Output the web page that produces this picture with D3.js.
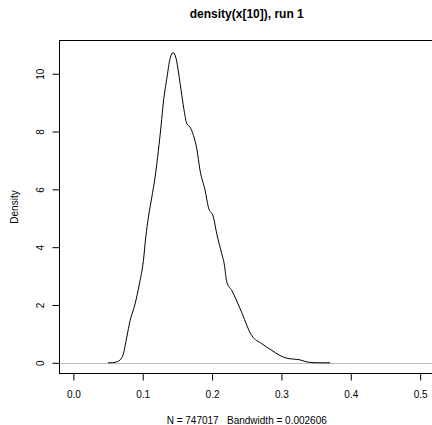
<!DOCTYPE html>
<html>
<head>
<meta charset="utf-8">
<script src="https://cdn.jsdelivr.net/npm/d3@7"></script>
<style>
  html, body { margin: 0; padding: 0; background: #fff; }
  svg { display: block; }
  text { font-family: "Liberation Sans", Arial, Helvetica, sans-serif; fill: #000; }
</style>
</head>
<body>
<svg id="chart" width="432" height="425"></svg>
<script>
// Data (x value, density)
const densityX = [0.050, 0.0529, 0.0601, 0.0674, 0.0721, 0.0770, 0.0818, 0.0890, 0.0952, 0.1010, 0.1044, 0.1082, 0.1131, 0.1178, 0.1226, 0.1265, 0.1298, 0.1347, 0.1395, 0.1438, 0.1481, 0.1515, 0.1564, 0.1601, 0.1636, 0.1683, 0.1731, 0.1780, 0.1827, 0.1900, 0.1947, 0.2019, 0.2068, 0.2140, 0.2174, 0.2213, 0.2285, 0.2405, 0.2573, 0.2717, 0.2862, 0.2981, 0.3078, 0.3270, 0.3390, 0.3558, 0.3703];
const densityY = [0.00, 0.00, 0.02, 0.10, 0.31, 0.89, 1.46, 2.04, 2.73, 3.54, 4.35, 5.04, 5.73, 6.42, 7.35, 8.21, 9.02, 9.83, 10.53, 10.73, 10.53, 10.06, 9.25, 8.67, 8.27, 8.15, 7.87, 7.40, 6.65, 5.96, 5.38, 5.04, 4.46, 3.77, 3.44, 2.79, 2.50, 1.87, 0.94, 0.66, 0.43, 0.25, 0.16, 0.10, 0.02, 0.00, 0.00];
const xTicks = [0.0, 0.1, 0.2, 0.3, 0.4, 0.5];
const xTickLabels = ["0.0", "0.1", "0.2", "0.3", "0.4", "0.5"];
const yTicks = [0, 2, 4, 6, 8, 10];
const yTickLabels = ["0", "2", "4", "6", "8", "10"];
const titleText = "density(x[10]), run 1";
const yLabel = "Density";
const subText = "N = 747017   Bandwidth = 0.002606";

(function () {
const svg = d3.select("#chart");
const pLeft = 59.5, pRight = 434, pTop = 40.5, pBottom = 373.5;

const x = d3.scaleLinear().domain([-0.02, 0.52]).range([pLeft, pRight]);
const y = d3.scaleLinear().domain([-0.37, 11.15]).range([pBottom, pTop]);

// zero reference line
svg.append("line")
  .attr("x1", pLeft).attr("x2", pRight)
  .attr("y1", Math.round(y(0)) + 0.5).attr("y2", Math.round(y(0)) + 0.5)
  .attr("stroke", "#bebebe").attr("stroke-width", 1);

// density curve
const pts = densityX.map((d, i) => [d, densityY[i]]);
svg.append("path")
  .datum(pts)
  .attr("fill", "none")
  .attr("stroke", "#000")
  .attr("stroke-width", 1)
  .attr("d", d3.line().x(d => x(d[0])).y(d => y(d[1])).curve(d3.curveMonotoneX));

// box
svg.append("rect")
  .attr("x", pLeft).attr("y", pTop)
  .attr("width", pRight - pLeft).attr("height", pBottom - pTop)
  .attr("fill", "none").attr("stroke", "#000").attr("stroke-width", 1);

// x axis
const xAxis = d3.axisBottom(x).tickValues(xTicks).tickSize(7)
  .tickFormat((d, i) => xTickLabels[i]);
const gx = svg.append("g").attr("transform", `translate(0,${pBottom})`).call(xAxis);
gx.select(".domain").remove();
gx.selectAll(".tick line").attr("stroke", "#000");
gx.selectAll(".tick text").attr("font-size", 10)
  .attr("font-family", "Liberation Sans, Arial, sans-serif").attr("fill", "#000")
  .attr("y", 24).attr("dy", null);

// y axis
const yAxis = d3.axisLeft(y).tickValues(yTicks).tickSize(7)
  .tickFormat((d, i) => yTickLabels[i]);
const gy = svg.append("g").attr("transform", `translate(${pLeft},0)`).call(yAxis);
gy.select(".domain").remove();
gy.selectAll(".tick line").attr("stroke", "#000");
gy.selectAll(".tick text").attr("font-size", 10)
  .attr("font-family", "Liberation Sans, Arial, sans-serif").attr("fill", "#000")
  .attr("x", 0).attr("y", 0).attr("dy", null)
  .attr("text-anchor", "middle")
  .attr("transform", `translate(${44 - pLeft},0) rotate(-90)`);

// title
svg.append("text")
  .attr("x", (pLeft + pRight) / 2).attr("y", 18)
  .attr("text-anchor", "middle")
  .attr("font-size", 12).attr("font-weight", "bold")
  .text(titleText);

// y label
svg.append("text")
  .attr("transform", `translate(17.5,${(pTop + pBottom) / 2}) rotate(-90)`)
  .attr("text-anchor", "middle")
  .attr("font-size", 10)
  .text(yLabel);

// sub text
svg.append("text")
  .attr("x", (pLeft + pRight) / 2).attr("y", 424)
  .attr("text-anchor", "middle")
  .attr("font-size", 10)
  .style("white-space", "pre")
  .text(subText);
})();
</script>
</body>
</html>
